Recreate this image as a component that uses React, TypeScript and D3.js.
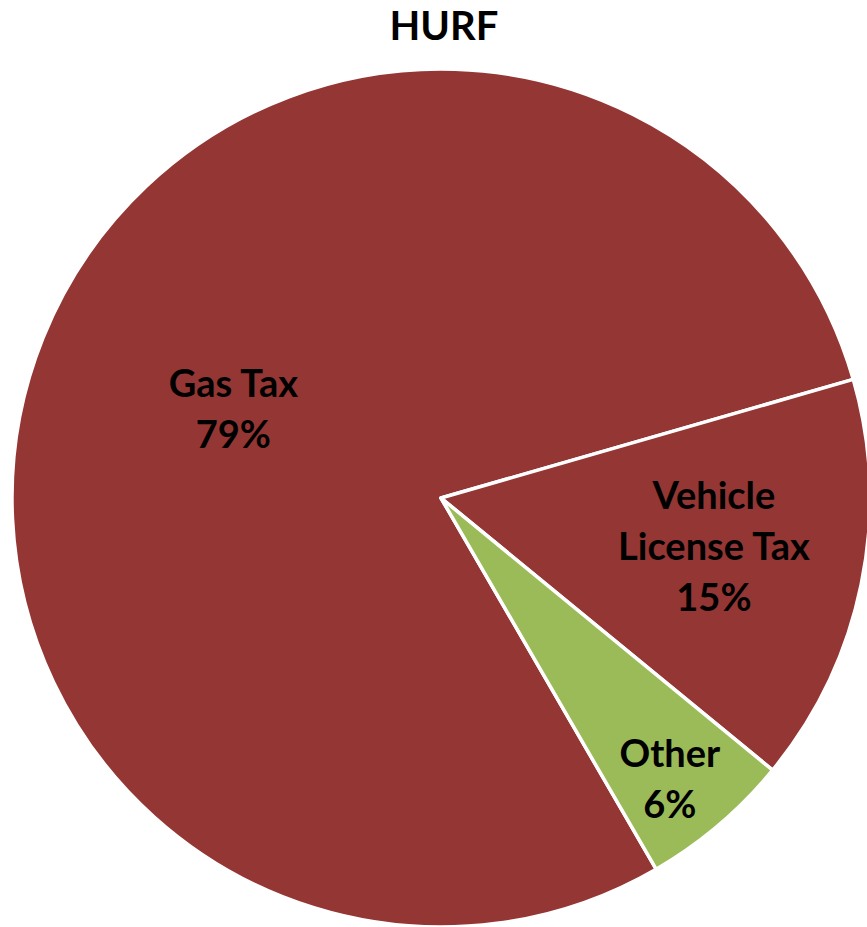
import React from "react";
import * as d3 from "d3";

const title = "HURF";
const categories = ["Gas Tax", "Vehicle License Tax", "Other"];
const values = [78.9, 15.4, 5.7];
const labelLines = [["Gas Tax"], ["Vehicle", "License Tax"], ["Other"]];
const colors = ["#943634", "#943634", "#9BBB59"];
const labelRadiusFactor = [0.527, 0.646, 0.844];
const labelAngleOffsetDeg = [1.4, -1.7, 1.16];

const W = 867;
const H = 927;
const cx = 441;
const cy = 498;
const R = 429;
const startDeg = 149.9;

export default function App() {
  const data = categories.map((c, i) => ({ c, v: values[i], i }));
  const pie = d3
    .pie<any>()
    .value((d) => d.v)
    .sort(null)
    .startAngle((startDeg * Math.PI) / 180)
    .endAngle(((startDeg + 360) * Math.PI) / 180);
  const arcs = pie(data);
  const arc = d3.arc<any>().innerRadius(0).outerRadius(R);
  const total = d3.sum(values);
  const fontSize = 38;
  const lh = 51;
  const cap = fontSize * 0.72;

  return (
    <svg
      width={W}
      height={H}
      style={{ position: "absolute", left: 0, top: 0 }}
      fontFamily="Lato, 'Open Sans', sans-serif"
    >
      <rect width={W} height={H} fill="#fff" />
      <text
        x={444}
        y={40}
        textAnchor="middle"
        fontWeight="bold"
        fontSize={40}
        fill="#000"
      >
        {title}
      </text>
      <g transform={`translate(${cx},${cy})`}>
        {arcs.map((a, i) => (
          <path
            key={i}
            d={arc(a) as string}
            fill={colors[i]}
            stroke="#fff"
            strokeWidth={3.5}
            strokeLinejoin="round"
          />
        ))}
        {arcs.map((a, i) => {
          const lr = R * labelRadiusFactor[i];
          const mid = (a.startAngle + a.endAngle) / 2 + (labelAngleOffsetDeg[i] * Math.PI) / 180;
          const [lx, ly] = d3.pointRadial(mid, lr);
          const lines = [...labelLines[i], `${Math.round((values[i] / total) * 100)}%`];
          const n = lines.length;
          const firstBase = ly - ((n - 1) * lh) / 2 + cap / 2;
          return (
            <text
              key={"l" + i}
              textAnchor="middle"
              fontWeight="bold"
              fontSize={fontSize}
              fill="#000"
            >
              {lines.map((t, j) => (
                <tspan key={j} x={lx} y={firstBase + j * lh}>
                  {t}
                </tspan>
              ))}
            </text>
          );
        })}
      </g>
    </svg>
  );
}
